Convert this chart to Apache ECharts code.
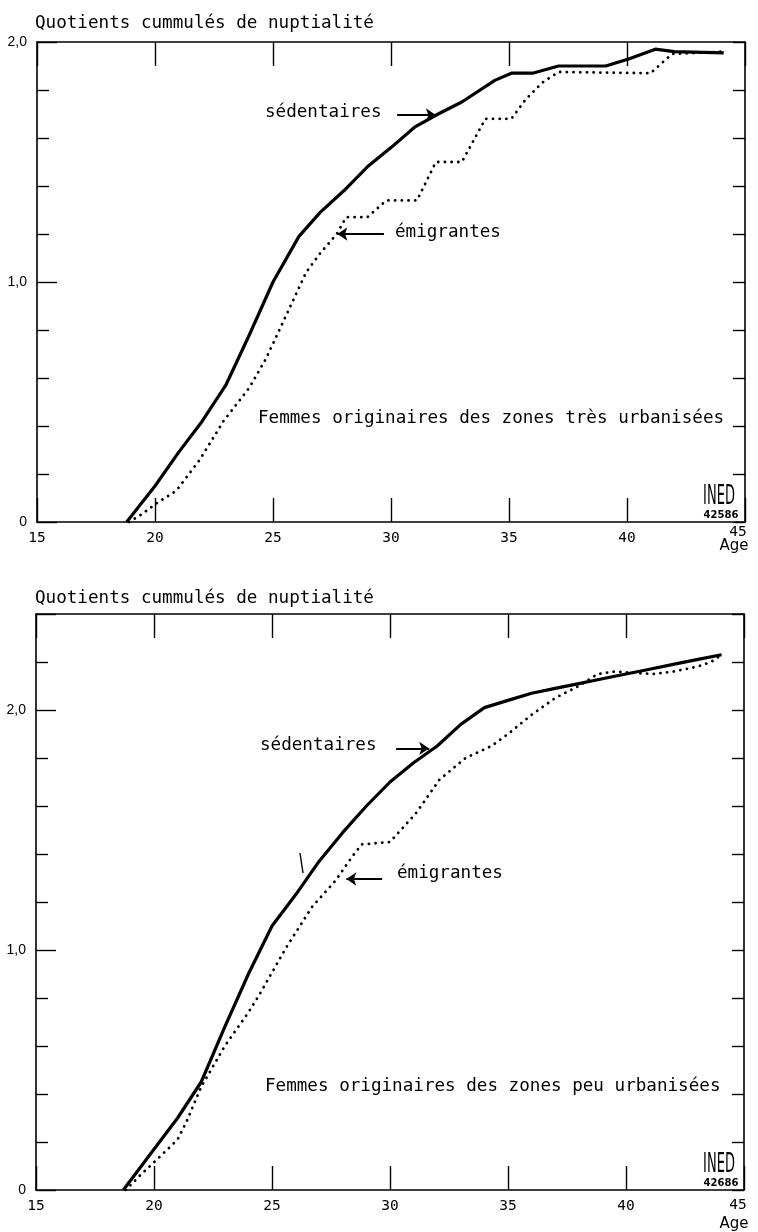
<!DOCTYPE html>
<html>
<head>
<meta charset="utf-8">
<script src="https://cdn.jsdelivr.net/npm/echarts@6/dist/echarts.min.js"></script>
<style>
html,body{margin:0;padding:0;background:#fff;}
#chart{width:758px;height:1232px;}
</style>
</head>
<body>
<div id="chart"></div>
<script>
// ---- data (age, cumulated nuptiality quotient) ----
const titleText = 'Quotients cummulés de nuptialité';
const xTicks = [15, 20, 25, 30, 35, 40, 45];
const topCaption = 'Femmes originaires des zones très urbanisées';
const bottomCaption = 'Femmes originaires des zones peu urbanisées';
const topCode = '42586';
const bottomCode = '42686';

const topSedentaires = [
  [18.8,0],[20,0.15],[21,0.29],[22,0.42],[23,0.57],[24,0.78],[25,1.0],[26.1,1.19],
  [27,1.29],[28,1.38],[29,1.48],[30,1.56],[31,1.645],[32,1.70],[33,1.75],[34.4,1.84],
  [35.1,1.87],[36,1.87],[37.1,1.90],[39.1,1.90],[40.1,1.93],[41.2,1.97],[42,1.96],[44.1,1.955]
];
const topEmigrantes = [
  [18.9,0],[19.4,0.03],[20.1,0.08],[20.9,0.13],[21.9,0.26],[22.9,0.42],[24,0.56],[24.7,0.68],
  [25.6,0.87],[26.4,1.04],[27,1.12],[27.7,1.2],[28.1,1.27],[29,1.27],[29.8,1.34],[31.1,1.34],
  [31.9,1.5],[33,1.5],[34,1.68],[35.1,1.68],[35.7,1.76],[36.4,1.83],[37.1,1.875],[41,1.87],
  [41.9,1.95],[44.1,1.96]
];
const bottomSedentaires = [
  [18.7,0],[20,0.17],[21,0.3],[22,0.45],[23,0.68],[24,0.9],[25,1.1],[26,1.23],[27,1.37],
  [28,1.49],[29,1.6],[30,1.7],[31,1.78],[32,1.85],[33,1.94],[34,2.01],[35,2.04],[36,2.07],
  [37,2.09],[38,2.11],[39,2.13],[40,2.15],[41,2.17],[42,2.19],[43,2.21],[44.05,2.23]
];
const bottomEmigrantes = [
  [18.8,0],[19.4,0.06],[20.1,0.125],[21,0.21],[21.4,0.29],[22,0.43],[23,0.6],[24,0.74],
  [24.5,0.82],[25.6,1.01],[26.7,1.18],[27.7,1.29],[28.4,1.39],[28.8,1.44],[30,1.45],
  [31.1,1.57],[32.1,1.71],[33.2,1.80],[34.3,1.85],[35,1.9],[36,1.98],[37,2.05],[38,2.1],
  [38.8,2.15],[39.5,2.16],[41.1,2.15],[42,2.16],[43,2.18],[43.6,2.2],[44.05,2.23]
];
// arrow annotations: [fromAge, toAge, value]
const topSedArrow = [30.26, 31.9, 1.696];
const topEmiArrow = [29.7, 27.73, 1.20];
const bottomSedArrow = [30.26, 31.66, 1.84];
const bottomEmiArrow = [29.67, 28.15, 1.296];

const MONO = 'DejaVu Sans Mono';
const BLACK = '#000';

function xAx(grid, pos) {
  return {
    type: 'value', gridIndex: grid, position: pos, min: 15, max: 45, interval: 5,
    axisLine: {show: true, onZero: false, lineStyle: {color: BLACK, width: 1.6}},
    axisTick: {show: true, inside: true, length: 24, lineStyle: {color: BLACK, width: 1.4}},
    axisLabel: pos === 'bottom' ? {
      show: true, margin: 9, color: BLACK, fontFamily: MONO, fontSize: 14.5,
      formatter: v => (v === 45 ? '' : String(v))
    } : {show: false},
    splitLine: {show: false}
  };
}
function yLeft(grid, max) {
  return {
    type: 'value', gridIndex: grid, position: 'left', min: 0, max: max, interval: 1,
    axisLine: {show: true, onZero: false, lineStyle: {color: BLACK, width: 1.6}},
    axisTick: {show: true, inside: true, length: 20, lineStyle: {color: BLACK, width: 1.4}},
    minorTick: {show: true, splitNumber: 5, length: 12, lineStyle: {color: BLACK, width: 1.4}},
    axisLabel: {
      show: true, margin: 10, color: BLACK, fontFamily: 'Liberation Sans', fontSize: 14,
      formatter: v => (v === 0 ? '0' : (Math.abs(v - Math.round(v)) < 1e-9 ? v.toFixed(1).replace('.', ',') : ''))
    },
    splitLine: {show: false}
  };
}
function yRight(grid, max) {
  return {
    type: 'value', gridIndex: grid, position: 'right', min: 0, max: max, interval: 0.2,
    axisLine: {show: true, onZero: false, lineStyle: {color: BLACK, width: 1.6}},
    axisTick: {show: true, inside: true, length: 12, lineStyle: {color: BLACK, width: 1.4}},
    axisLabel: {show: false},
    splitLine: {show: false}
  };
}
function arrowLine(a) {
  return {
    silent: true, symbol: ['none', 'arrow'], symbolSize: 10,
    lineStyle: {type: 'solid', width: 2, color: BLACK},
    label: {show: false},
    data: [[{coord: [a[0], a[2]]}, {coord: [a[1], a[2]]}]]
  };
}
function solid(data, xi, yi, arrow) {
  return {
    type: 'line', data: data, xAxisIndex: xi, yAxisIndex: yi, showSymbol: false, silent: true,
    lineStyle: {color: BLACK, width: 3.2, join: 'round'},
    markLine: arrowLine(arrow), animation: false
  };
}
function dotted(data, xi, yi, arrow) {
  return {
    type: 'line', data: data, xAxisIndex: xi, yAxisIndex: yi, showSymbol: false, silent: true,
    lineStyle: {color: BLACK, width: 2.8, type: [0.1, 6.6], cap: 'round'},
    markLine: arrowLine(arrow), animation: false
  };
}
function txt(x, y, text, extra) {
  return Object.assign({
    type: 'text', x: x, y: y, silent: true,
    style: Object.assign({text: text, fill: BLACK, fontFamily: MONO, fontSize: 17.6,
      textAlign: 'left', textVerticalAlign: 'middle'}, extra || {})
  });
}
function ined(x, y) {
  return {type: 'text', x: x, y: y, scaleY: 2.0, silent: true,
    style: {text: 'INED', fill: BLACK, fontFamily: 'DejaVu Sans', fontSize: 13, textAlign: 'center', textVerticalAlign: 'middle'}};
}

const chart = echarts.init(document.getElementById('chart'), null, {renderer: 'canvas'});
chart.setOption({
  backgroundColor: '#fff',
  animation: false,
  grid: [
    {left: 37, top: 42, width: 708, height: 480},
    {left: 36, top: 614, width: 708, height: 576}
  ],
  xAxis: [xAx(0, 'bottom'), xAx(0, 'top'), xAx(1, 'bottom'), xAx(1, 'top')],
  yAxis: [yLeft(0, 2), yRight(0, 2), yLeft(1, 2.4), yRight(1, 2.4)],
  series: [
    solid(topSedentaires, 0, 0, topSedArrow),
    dotted(topEmigrantes, 0, 0, topEmiArrow),
    solid(bottomSedentaires, 2, 2, bottomSedArrow),
    dotted(bottomEmigrantes, 2, 2, bottomEmiArrow)
  ],
  graphic: [
    txt(35, 23, titleText),
    txt(265, 112, 'sédentaires'),
    txt(395, 232, 'émigrantes'),
    txt(258, 418, topCaption),
    ined(719, 497),
    txt(721, 515, topCode, {fontFamily: 'DejaVu Sans', fontSize: 10, fontWeight: 'bold', textAlign: 'center'}),
    txt(738, 532, '45', {fontSize: 14.5, textAlign: 'center'}),
    txt(734, 546, 'Age', {fontFamily: 'DejaVu Sans', fontSize: 15, textAlign: 'center'}),

    txt(35, 598, titleText),
    txt(260, 745, 'sédentaires'),
    txt(397, 873, 'émigrantes'),
    txt(265, 1086, bottomCaption),
    {type: 'line', silent: true, shape: {x1: 300, y1: 853, x2: 303, y2: 873}, style: {stroke: BLACK, lineWidth: 1.4}},
    ined(719, 1165),
    txt(721, 1183, bottomCode, {fontFamily: 'DejaVu Sans', fontSize: 10, fontWeight: 'bold', textAlign: 'center'}),
    txt(738, 1205, '45', {fontSize: 14.5, textAlign: 'center'}),
    txt(734, 1224, 'Age', {fontFamily: 'DejaVu Sans', fontSize: 15, textAlign: 'center'})
  ]
});
</script>
</body>
</html>
